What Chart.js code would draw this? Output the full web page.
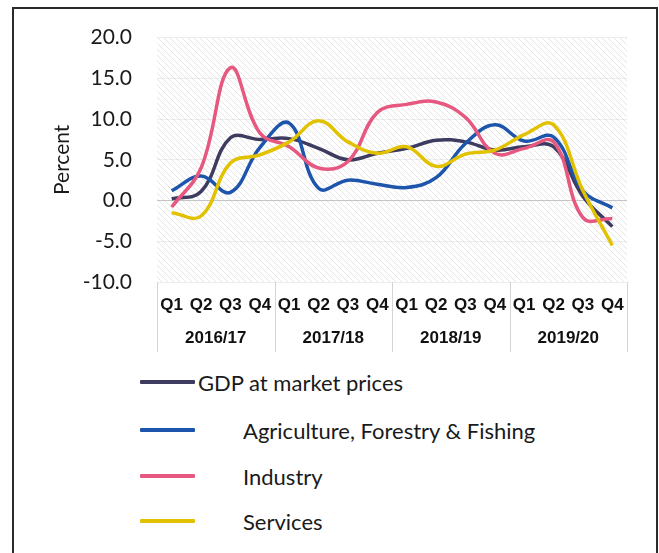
<!DOCTYPE html>
<html>
<head>
<meta charset="utf-8">
<script src="https://cdn.jsdelivr.net/npm/chart.js@4.4.1/dist/chart.umd.min.js"></script>
<style>
    html, body { margin: 0; padding: 0; background: #fff; }
    #wrap { position: relative; width: 659px; height: 553px; overflow: hidden; }
    #frame { position: absolute; left: 12px; top: 7px; width: 642px; height: 600px; border: 2px solid #2b2b2b; }
    #chart { position: absolute; left: 0; top: 0; }
    .lg-item { position: absolute; left: 140px; height: 26px; display: flex; align-items: center;
               font-family: Lato, sans-serif; font-size: 22px; color: #1a1a1a; white-space: nowrap; }
    .lg-line { width: 55px; height: 4px; border-radius: 1px; }
</style>
</head>
<body>
<div id="wrap">
    <div id="frame"></div>
    <canvas id="chart" width="659" height="360"></canvas>
    <div id="legend"></div>
</div>
<script>
// ---- Data ----

const quarters = ['Q1', 'Q2', 'Q3', 'Q4', 'Q1', 'Q2', 'Q3', 'Q4', 'Q1', 'Q2', 'Q3', 'Q4', 'Q1', 'Q2', 'Q3', 'Q4'];
const years = ['2016/17', '2017/18', '2018/19', '2019/20'];
const yTicks = [20, 15, 10, 5, 0, -5, -10];

const gdp = [0.2, 1.1, 7.7, 7.5, 7.6, 6.4, 5.0, 5.8, 6.4, 7.4, 7.2, 6.2, 6.6, 6.6, 0.5, -3.2];
const agriculture = [1.2, 3.0, 1.0, 6.5, 9.5, 1.5, 2.5, 2.0, 1.6, 2.8, 7.0, 9.3, 7.3, 7.8, 1.2, -0.9];
const industry = [-0.8, 4.0, 16.3, 8.3, 6.6, 4.0, 4.8, 10.8, 11.8, 12.1, 10.2, 5.8, 6.4, 7.2, -2.1, -2.2];
const services = [-1.5, -1.9, 4.6, 5.6, 7.2, 9.8, 7.2, 5.8, 6.6, 4.2, 5.7, 6.2, 8.1, 9.3, 1.2, -5.5];

// ---- Plugins ----

// light diagonal hatch behind the plot area
function makeHatch(ctx) {
    const tile = document.createElement('canvas');
    tile.width = 6;
    tile.height = 6;
    const t = tile.getContext('2d');
    t.strokeStyle = 'rgba(160,160,160,0.28)';
    t.lineWidth = 1;
    t.beginPath();
    t.moveTo(0, 0); t.lineTo(6, 6);
    t.moveTo(-3, 3); t.lineTo(3, 9);
    t.moveTo(3, -3); t.lineTo(9, 3);
    t.stroke();
    return ctx.createPattern(tile, 'repeat');
}

const hatchPlugin = {
    id: 'hatch',
    beforeDraw(chart) {
        const { ctx, chartArea: a } = chart;
        ctx.save();
        ctx.fillStyle = makeHatch(ctx);
        ctx.fillRect(a.left, a.top, a.right - a.left, a.bottom - a.top);
        ctx.restore();
    }
};

// vertical separators between the year groups
const groupLines = {
    id: 'groupLines',
    afterDraw(chart) {
        const { ctx, chartArea: a } = chart;
        const x = chart.scales.x;
        const x2 = chart.scales.x2;
        ctx.save();
        ctx.strokeStyle = '#d4d4d4';
        ctx.lineWidth = 1;
        for (let i = 0; i <= quarters.length; i += 4) {
            let px;
            if (i === 0) px = a.left;
            else if (i === quarters.length) px = a.right;
            else px = (x.getPixelForValue(i - 1) + x.getPixelForValue(i)) / 2;
            ctx.beginPath();
            ctx.moveTo(Math.round(px) + 0.5, a.bottom);
            ctx.lineTo(Math.round(px) + 0.5, x2.bottom);
            ctx.stroke();
        }
        ctx.restore();
    }
};

// ---- Chart ----

const series = [
    { label: 'GDP at market prices', data: gdp, color: '#3e3b60', indent: 3 },
    { label: 'Agriculture, Forestry & Fishing', data: agriculture, color: '#1d55ad', indent: 48 },
    { label: 'Industry', data: industry, color: '#e6587f', indent: 48 },
    { label: 'Services', data: services, color: '#e2c200', indent: 48 }
];

const chart = new Chart(document.getElementById('chart'), {
    type: 'line',
    data: {
        labels: quarters,
        datasets: series.map((s, i) => ({
            label: s.label,
            data: s.data,
            borderColor: s.color,
            borderWidth: 3.5,
            pointRadius: 0,
            tension: 0.4,
            fill: false,
            order: 3 - i
        }))
    },
    options: {
        responsive: false,
        animation: false,
        layout: { padding: { left: 50, right: 32, top: 35, bottom: 8 } },
        plugins: { legend: { display: false }, tooltip: { enabled: false } },
        scales: {
            y: {
                min: -10,
                max: 20,
                afterFit: s => { s.width = 107; },
                afterBuildTicks: s => { s.ticks = yTicks.map(v => ({ value: v })); },
                border: { display: false },
                grid: {
                    drawTicks: false,
                    color: c => c.tick && c.tick.value === 0 ? '#c4c4c4' : 'rgba(200,200,200,0.3)'
                },
                ticks: {
                    padding: 25,
                    color: '#1a1a1a',
                    font: { family: 'Lato', size: 21 },
                    callback: v => Number(v).toFixed(1)
                },
                title: {
                    display: true,
                    text: 'Percent',
                    color: '#1a1a1a',
                    font: { family: 'Lato', size: 21 },
                    padding: { top: 0, bottom: 0 }
                }
            },
            x: {
                offset: true,
                afterFit: s => { s.height = 36; },
                border: { display: false },
                grid: { display: false, drawTicks: false },
                ticks: {
                    autoSkip: false,
                    maxRotation: 0,
                    padding: 13,
                    color: '#111',
                    font: { family: 'Liberation Sans', size: 17, weight: 'bold' }
                }
            },
            x2: {
                type: 'category',
                labels: years,
                position: 'bottom',
                offset: true,
                afterFit: s => { s.height = 34; },
                border: { display: false },
                grid: { display: false, drawTicks: false },
                ticks: {
                    autoSkip: false,
                    maxRotation: 0,
                    padding: 10,
                    color: '#111',
                    font: { family: 'Liberation Sans', size: 17, weight: 'bold' }
                }
            }
        }
    },
    plugins: [hatchPlugin, groupLines]
});

// ---- Legend (Excel-style list under the chart) ----

const legendTops = [369, 417, 463, 508];
const legendEl = document.getElementById('legend');
legendEl.innerHTML = chart.data.datasets.map((ds, i) => `
    <div class="lg-item" style="top:${legendTops[i]}px;">
        <div class="lg-line" style="background:${ds.borderColor};margin-right:${series[i].indent}px;"></div>
        <span>${ds.label}</span>
    </div>
`).join('');
</script>
</body>
</html>
